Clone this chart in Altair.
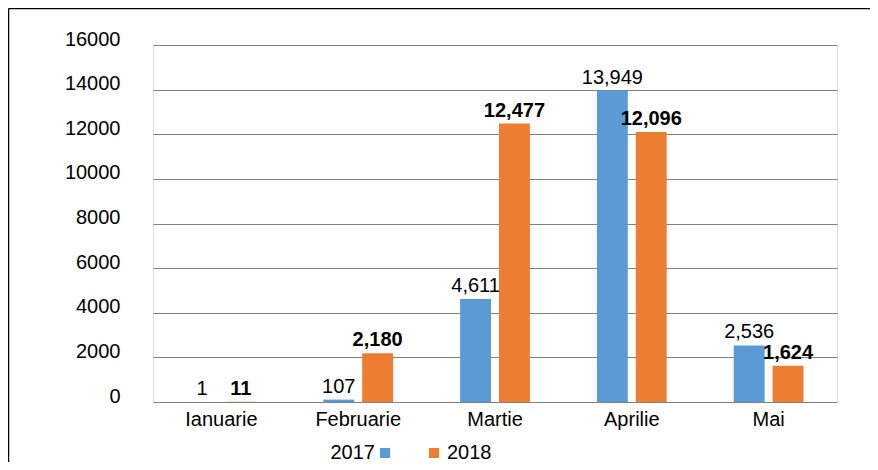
import altair as alt
import pandas as pd

months = ["Ianuarie", "Februarie", "Martie", "Aprilie", "Mai"]
years = ["2017", "2018"]
v2017 = [1, 107, 4611, 13949, 2536]
v2018 = [11, 2180, 12477, 12096, 1624]
colors = ["#5B9BD5", "#ED7D31"]
y_ticks = [0, 2000, 4000, 6000, 8000, 10000, 12000, 14000, 16000]

rows = []
for m, a, b in zip(months, v2017, v2018):
    rows.append({"month": m, "year": "2017", "value": a})
    rows.append({"month": m, "year": "2018", "value": b})
df = pd.DataFrame(rows)

FONT = "Liberation Sans"
FS = 20

x = alt.X("month:N", sort=months,
          scale=alt.Scale(paddingInner=0.49, paddingOuter=0.245),
          axis=alt.Axis(title=None, labelAngle=0, ticks=False, domain=False,
                        labelPadding=7, labelFontSize=FS, labelColor="#000", labelFont=FONT))
xoff = alt.XOffset("year:N", sort=years, scale=alt.Scale(paddingInner=0.205, paddingOuter=0))
y = alt.Y("value:Q", scale=alt.Scale(domain=[0, 16000]),
          axis=alt.Axis(title=None, values=y_ticks, format="d", ticks=False, domain=False,
                        labelPadding=33, labelBaseline="alphabetic", gridColor="#808080",
                        gridWidth=1, labelFontSize=FS, labelColor="#000", labelFont=FONT))
color = alt.Color("year:N",
                  scale=alt.Scale(domain=years, range=colors),
                  legend=alt.Legend(title=None, orient="none", legendX=222, legendY=398,
                                    direction="horizontal", symbolType="square", symbolSize=100,
                                    symbolStrokeWidth=0, symbolOpacity=1,
                                    labelFontSize=FS, labelFont=FONT, labelColor="#000",
                                    columnPadding=34,
                                    labelAlign=alt.ExprRef(expr="datum.index === 0 ? 'right' : 'left'"),
                                    labelOffset=alt.ExprRef(expr="datum.index === 0 ? -20 : 3")))

base = alt.Chart(df)
bars = base.mark_bar().encode(x=x, xOffset=xoff, y=y, color=color)

t17 = base.transform_filter("datum.year == '2017'").mark_text(
    baseline="alphabetic", dy=-7, fontSize=FS, font=FONT, color="#000"
).encode(x=x, xOffset=xoff, y=y, text=alt.Text("value:Q", format=","))

t18 = base.transform_filter("datum.year == '2018'").mark_text(
    baseline="alphabetic", dy=-7, fontSize=FS, font=FONT, color="#000", fontWeight="bold"
).encode(x=x, xOffset=xoff, y=y, text=alt.Text("value:Q", format=","))

frame_data = alt.Data(values=[{}])
frame_top = alt.Chart(frame_data).mark_rule(color="#000", strokeWidth=1.5).encode(
    x=alt.value(-144.5), x2=alt.value(717), y=alt.value(-36.5))
frame_left = alt.Chart(frame_data).mark_rule(color="#000", strokeWidth=1.5).encode(
    x=alt.value(-144.5), y=alt.value(-36.5), y2=alt.value(417))

chart = alt.layer(bars, t17, t18, frame_top, frame_left).properties(
    width=684, height=357,
    autosize=alt.AutoSizeParams(type="none"),
    padding={"left": 145, "top": 37, "right": 33, "bottom": 60},
).configure_view(stroke=None).configure(font=FONT)

chart.save("out.html", embed_options={"renderer": "svg", "actions": False})
